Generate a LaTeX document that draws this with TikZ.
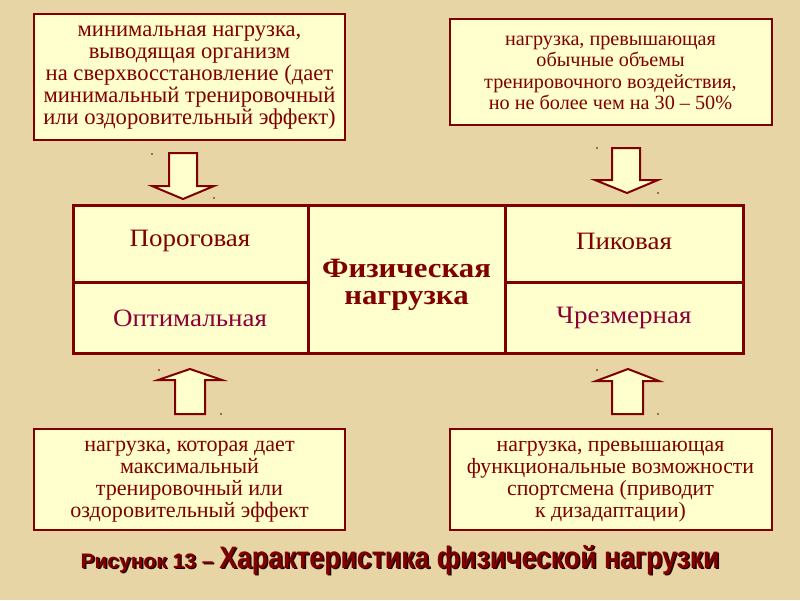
\documentclass[tikz,border=0pt]{standalone}
\usepackage{fontspec}
\setmainfont{Liberation Serif}
\newfontfamily\cellfont[FakeStretch=1.08]{Liberation Serif}
\newfontfamily\capfont{Liberation Sans}
\newfontfamily\capbigfont[FakeStretch=0.86]{Liberation Sans}
\newfontfamily\headfont[FakeStretch=1.1]{Liberation Serif}
\definecolor{bg}{RGB}{231,213,165}
\definecolor{boxfill}{RGB}{255,255,206}
\definecolor{dred}{RGB}{128,0,0}
\definecolor{plum}{RGB}{140,0,55}
\tikzset{
  infobox/.style={draw=dred, line width=2pt, fill=boxfill, inner sep=0pt},
  infotext/.style={text=dred, align=center, inner sep=0pt, font=\fontsize{22}{22}\selectfont},
  blockarrow/.style={draw=dred, line width=2pt, fill=boxfill, line join=miter},
  cell/.style={text=dred, inner sep=0pt, font=\cellfont\fontsize{25}{28}\selectfont},
  speck/.style={fill=dred!70!black, circle, inner sep=0pt, minimum size=1.8pt}
}
\newcommand{\captiontext}{{\capfont\bfseries\fontsize{21}{21}\selectfont Рисунок 13 – }{\capbigfont\bfseries\fontsize{31}{31}\selectfont Характеристика физической нагрузки}}
\begin{document}
\begin{tikzpicture}[x=1pt,y=-1pt]
\fill[bg] (0,0) rectangle (800,600);
\useasboundingbox (0,0) rectangle (800,600);

% top boxes
\node[infobox, minimum width=311pt, minimum height=126pt] (tl) at (189.5,77) {};
\node[infotext, font=\fontsize{22.6}{22}\selectfont] (tlt) at (189.5,78) {минимальная нагрузка,\\выводящая организм\\на сверхвосстановление (дает\\минимальный тренировочный\\или оздоровительный эффект)};
\node[infobox, minimum width=322pt, minimum height=106pt] (tr) at (610.5,71.5) {};
\node[infotext, font=\fontsize{20.2}{21.3}\selectfont] (trt) at (610.5,73) {нагрузка, превышающая\\обычные объемы\\тренировочного воздействия,\\но не более чем на 30 – 50\%};

% bottom boxes
\node[infobox, minimum width=311pt, minimum height=101pt] (bl) at (189.5,479.5) {};
\node[infotext, font=\fontsize{22.1}{21.8}\selectfont] (blt) at (189.5,481.5) {нагрузка, которая дает\\максимальный\\тренировочный или\\оздоровительный эффект};
\node[infobox, minimum width=322pt, minimum height=101pt] (br) at (610.5,479.5) {};
\node[infotext, font=\fontsize{21.8}{21.8}\selectfont] (brt) at (610.5,481.5) {нагрузка, превышающая\\функциональные возможности\\спортсмена (приводит\\к дизадаптации)};

% table
\draw[draw=dred, line width=3pt, fill=boxfill] (73,205) rectangle (743,353);
\draw[dred, line width=3pt] (308,205) -- (308,353) (505,205) -- (505,353)
  (73,282) -- (308,282) (505,282) -- (743,282);
\node[cell] (c1) at (190,241) {Пороговая};
\node[cell, text=plum] (c2) at (190,318) {Оптимальная};
\node[cell] (c3) at (624,241) {Пиковая};
\node[cell, text=plum] (c4) at (624,318) {Чрезмерная};
\node[text=dred, align=center, inner sep=0pt, font=\headfont\bfseries\fontsize{28}{27}\selectfont] (mid) at (406.5,285) {Физическая\\нагрузка};

% arrows down
\draw[blockarrow] (169,153) -- (197,153) -- (197,186) -- (214,186) -- (183,199) -- (152,186) -- (169,186) -- cycle;
\draw[blockarrow] (612,148) -- (640,148) -- (640,180) -- (658,180) -- (627,193) -- (595,180) -- (612,180) -- cycle;
% arrows up
\draw[blockarrow] (175,414) -- (205,414) -- (205,380) -- (222,380) -- (190,369) -- (158,380) -- (175,380) -- cycle;
\draw[blockarrow] (612,414) -- (643,414) -- (643,381) -- (659,381) -- (628,369) -- (596,381) -- (612,381) -- cycle;

% specks
\node[speck] (s1) at (152,154) {};
\node[speck] (s2) at (214,198) {};
\node[speck] (s3) at (597,148) {};
\node[speck] (s4) at (658,193) {};
\node[speck] (s5) at (159,370) {};
\node[speck] (s6) at (221,414) {};
\node[speck] (s7) at (597,370) {};
\node[speck] (s8) at (658,414) {};

% caption
\node[text=black!75!dred, inner sep=0pt, anchor=base] (capsh) at (401.5,569.5) {\captiontext};
\node[text=dred, inner sep=0pt, anchor=base] (cap) at (400,568) {\captiontext};
\end{tikzpicture}
\end{document}
